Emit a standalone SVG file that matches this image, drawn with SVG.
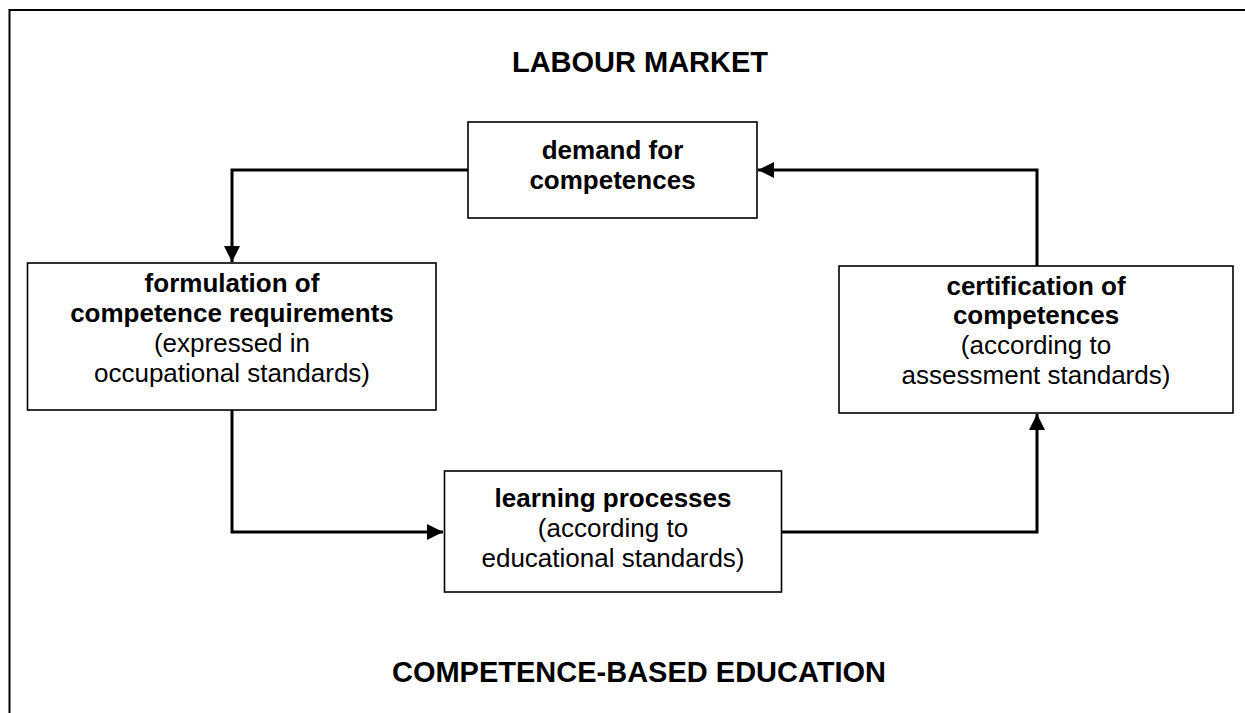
<svg xmlns="http://www.w3.org/2000/svg" width="1245" height="713" viewBox="0 0 1245 713">
<style>
text{font-family:"Liberation Sans",Arial,sans-serif;font-size:26px;fill:#000;text-anchor:middle}
.b{font-weight:bold}
.t{font-weight:bold;font-size:29px}
.box{fill:#fff;stroke:#000;stroke-width:1.6}
.conn{fill:none;stroke:#000;stroke-width:3}
.frame{fill:none;stroke:#000;stroke-width:2}
</style>
<defs>
<marker id="arr" markerUnits="userSpaceOnUse" markerWidth="16" markerHeight="16" refX="16" refY="8" orient="auto">
<path d="M0,0 L16,8 L0,16 z" fill="#000"/>
</marker>
</defs>
<rect width="1245" height="713" fill="#fff"/>
<path class="frame" d="M9.5,713 V10 H1245"/>
<text class="t" x="640" y="72">LABOUR MARKET</text>
<text class="t" x="639" y="682">COMPETENCE-BASED EDUCATION</text>
<g id="connectors">
<path class="conn" d="M468,170 H232 V262" marker-end="url(#arr)"/>
<path class="conn" d="M232,410 V532 H443" marker-end="url(#arr)"/>
<path class="conn" d="M782,532 H1037 V414" marker-end="url(#arr)"/>
<path class="conn" d="M1037,266 V170 H758" marker-end="url(#arr)"/>
</g>
<g id="demand">
<rect class="box" x="468" y="122" width="289" height="96"/>
<text class="b" x="612.5" y="159">demand for</text>
<text class="b" x="612.5" y="188.5">competences</text>
</g>
<g id="formulation">
<rect class="box" x="27.5" y="263" width="408.5" height="147"/>
<text class="b" x="232" y="292">formulation of</text>
<text class="b" x="232" y="322">competence requirements</text>
<text x="232" y="352">(expressed in</text>
<text x="232" y="382">occupational standards)</text>
</g>
<g id="learning">
<rect class="box" x="444.5" y="471" width="337" height="121"/>
<text class="b" x="613" y="507">learning processes</text>
<text x="613" y="537">(according to</text>
<text x="613" y="567">educational standards)</text>
</g>
<g id="certification">
<rect class="box" x="839" y="266" width="394" height="147"/>
<text class="b" x="1036" y="295">certification of</text>
<text class="b" x="1036" y="323.5">competences</text>
<text x="1036" y="353.5">(according to</text>
<text x="1036" y="383.5">assessment standards)</text>
</g>
</svg>
